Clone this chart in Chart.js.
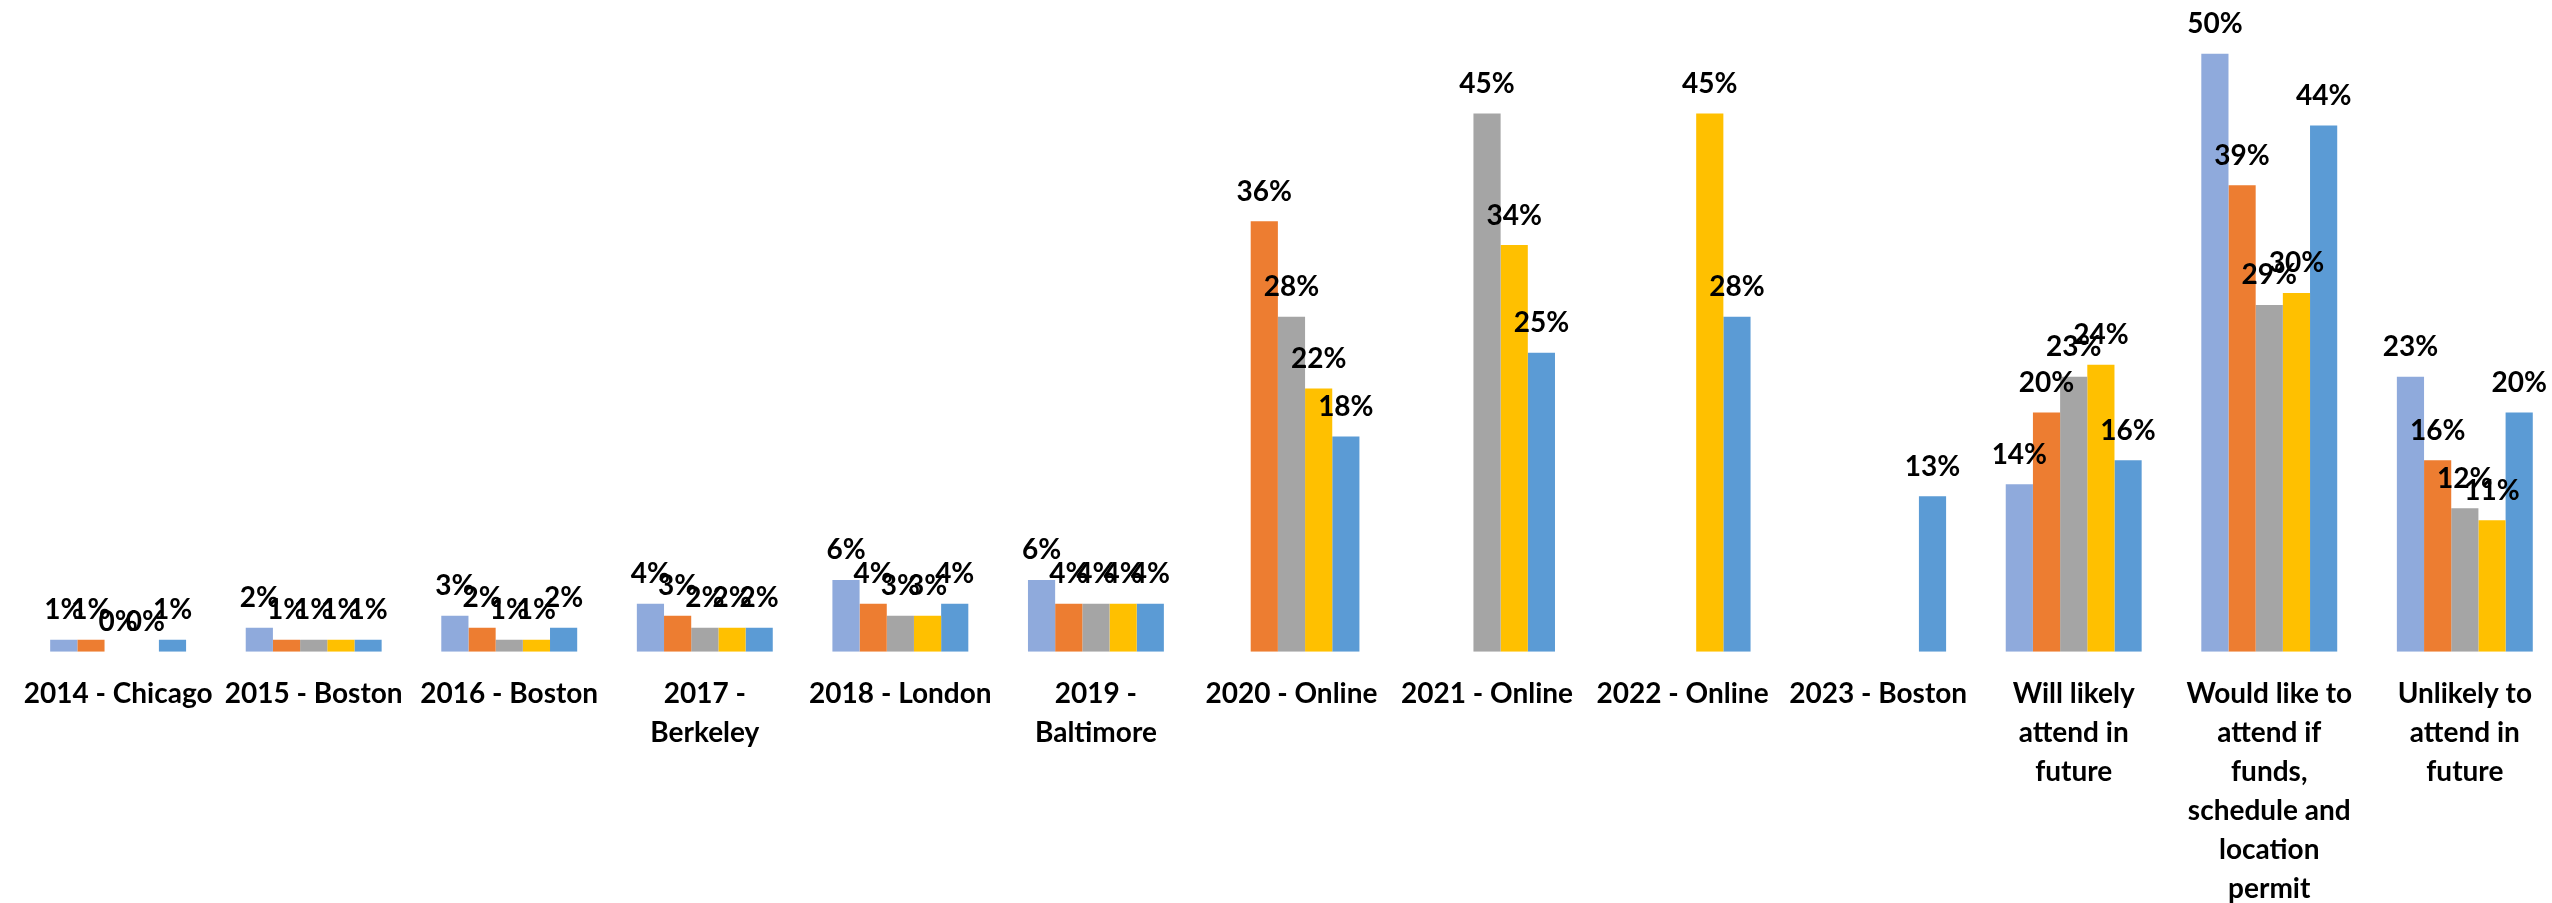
<!DOCTYPE html>
<html>
<head>
<meta charset="utf-8">
<script src="https://cdn.jsdelivr.net/npm/chart.js@4.4.1/dist/chart.umd.min.js"></script>
<style>
  html, body { margin: 0; padding: 0; background: #ffffff; overflow: hidden; }
  #wrap { position: absolute; left: 0; top: 0; width: 2580px; height: 903px; }
</style>
</head>
<body>
<div id="wrap"><canvas id="c" width="2580" height="903"></canvas></div>
<script>
const categories = [
  '2014 - Chicago',
  '2015 - Boston',
  '2016 - Boston',
  ['2017 -', 'Berkeley'],
  '2018 - London',
  ['2019 -', 'Baltimore'],
  '2020 - Online',
  '2021 - Online',
  '2022 - Online',
  '2023 - Boston',
  ['Will likely', 'attend in', 'future'],
  ['Would like to', 'attend if', 'funds,', 'schedule and', 'location', 'permit'],
  ['Unlikely to', 'attend in', 'future']
];
const series1 = [1, 2, 3, 4, 6, 6, null, null, null, null, 14, 50, 23];
const series2 = [1, 1, 2, 3, 4, 4, 36, null, null, null, 20, 39, 16];
const series3 = [0, 1, 1, 2, 3, 4, 28, 45, null, null, 23, 29, 12];
const series4 = [0, 1, 1, 2, 3, 4, 22, 34, 45, null, 24, 30, 11];
const series5 = [1, 1, 2, 2, 4, 4, 18, 25, 28, 13, 16, 44, 20];
const seriesNames = ['Series 1', 'Series 2', 'Series 3', 'Series 4', 'Series 5'];
const colors = ['#8FAADC', '#ED7D31', '#A5A5A5', '#FFC000', '#5B9BD5'];

const FONT = 'Lato, "Open Sans", "DejaVu Sans", sans-serif';

const labelPlugin = {
  id: 'barLabels',
  afterDatasetsDraw(chart) {
    const ctx = chart.ctx;
    ctx.save();
    ctx.font = 'bold 28px ' + FONT;
    ctx.fillStyle = '#000000';
    ctx.textAlign = 'center';
    ctx.textBaseline = 'alphabetic';
    chart.data.datasets.forEach((ds, i) => {
      const meta = chart.getDatasetMeta(i);
      meta.data.forEach((bar, j) => {
        const v = ds.data[j];
        if (v === null || v === undefined) return;
        ctx.fillText(v + '%', bar.x, bar.y - 20.5);
      });
    });
    ctx.restore();
  }
};

const allSeries = [series1, series2, series3, series4, series5];

new Chart(document.getElementById('c'), {
  type: 'bar',
  data: {
    labels: categories,
    datasets: allSeries.map((d, i) => ({
      label: seriesNames[i],
      data: d,
      backgroundColor: colors[i],
      borderWidth: 0,
      barPercentage: 1.0,
      categoryPercentage: 0.695
    }))
  },
  options: {
    responsive: false,
    animation: false,
    devicePixelRatio: 1,
    layout: { padding: { left: 19.5, right: 17.4, top: 5.9, bottom: 0 } },
    plugins: {
      legend: { display: false },
      tooltip: { enabled: false },
      title: { display: false }
    },
    scales: {
      x: {
        grid: { display: false, drawTicks: false, tickLength: 0 },
        border: { display: false },
        ticks: {
          autoSkip: false,
          maxRotation: 0,
          minRotation: 0,
          padding: 23,
          color: '#000000',
          font: { family: FONT, size: 28, weight: 'bold', lineHeight: 1.393 }
        },
        afterFit(scale) { scale.height = 251.3; }
      },
      y: {
        display: false,
        min: 0,
        max: 54
      }
    }
  },
  plugins: [labelPlugin]
});
</script>
</body>
</html>
